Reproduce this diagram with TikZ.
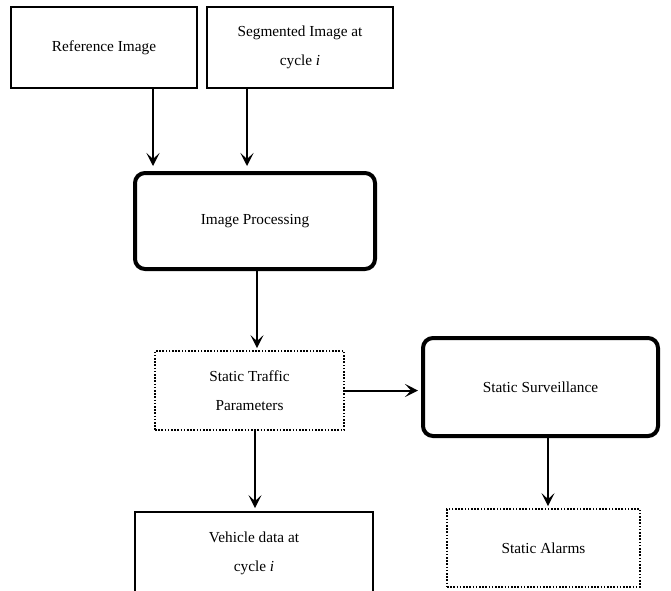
\documentclass[tikz,border=0pt]{standalone}
\usepackage{fontspec}
\setmainfont{Liberation Serif}
\usetikzlibrary{arrows.meta,calc}
\begin{document}
\begin{tikzpicture}[x=1pt,y=-1pt,
  every node/.style={font=\fontsize{15.3}{28.5}\selectfont, align=center},
  plainbox/.style={draw, line width=1.8pt, inner sep=0pt},
  thickbox/.style={draw, line width=4pt, rounded corners=10pt, inner sep=0pt},
  dotbox/.style={draw, line width=1.8pt, dash pattern=on 1.6pt off 1.6pt, inner sep=0pt},
  arr/.style={line width=2pt, -{Stealth[length=13pt,width=13pt,inset=6pt]}}
]
\useasboundingbox[fill=white] (0,0) rectangle (671,590);

\node[plainbox, minimum width=186pt, minimum height=81pt] (ref) at (104,47.5) {Reference Image};
\node[plainbox, minimum width=186pt, minimum height=81pt] (seg) at (300,47.5) {Segmented Image at\\cycle \textit{i}};
\node[thickbox, minimum width=240pt, minimum height=96pt] (imp) at (255,221) {Image Processing};
\node[dotbox, minimum width=189pt, minimum height=79pt] (stp) at (249.5,390.5) {Static Traffic\\Parameters};
\node[thickbox, minimum width=235pt, minimum height=98pt] (ss) at (540.5,387) {Static Surveillance};
\node[plainbox, minimum width=238pt, minimum height=100pt,
  label={[anchor=center, yshift=-42pt]north:{Vehicle data at\\cycle \textit{i}}}] (veh) at (254,562) {};
\node[dotbox, minimum width=193pt, minimum height=78pt] (sa) at (543.5,548) {Static Alarms};

\draw[arr, shorten >=5pt] ([xshift=49pt]ref.south) -- ([xshift=49pt]ref.south |- imp.north);
\draw[arr, shorten >=5pt] ([xshift=-53pt]seg.south) -- ([xshift=-53pt]seg.south |- imp.north);
\draw[arr, shorten >=2pt] ([xshift=2pt]imp.south) -- ([xshift=2pt]imp.south |- stp.north);
\draw[arr, shorten >=3pt] (stp.east) -- (stp.east -| ss.west);
\draw[arr, shorten >=3pt] ([xshift=5.5pt]stp.south) -- ([xshift=5.5pt]stp.south |- veh.north);
\draw[arr, shorten >=2pt] ([xshift=7.5pt]ss.south) -- ([xshift=7.5pt]ss.south |- sa.north);
\end{tikzpicture}
\end{document}
